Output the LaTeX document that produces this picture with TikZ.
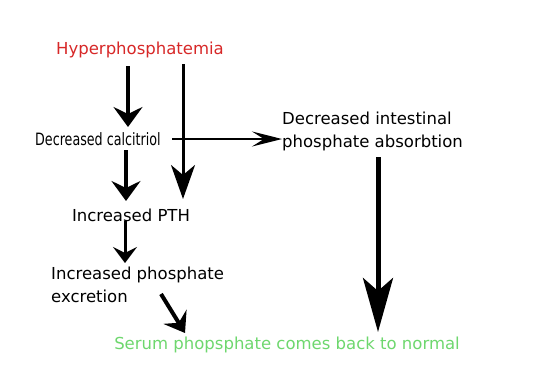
\documentclass[tikz,border=0pt]{standalone}
\usepackage{graphicx}
\usepackage{fontspec}
\setmainfont{DejaVu Sans}
\newfontfamily\condfont{DejaVu Sans Condensed}
\usetikzlibrary{arrows.meta}
\definecolor{hred}{RGB}{215,40,40}
\definecolor{sgreen}{RGB}{110,215,110}
\begin{document}
\begin{tikzpicture}[x=1pt,y=-1pt,
  lbl/.style={font=\fontsize{16.5}{23}\selectfont,inner sep=0pt,align=left},
  arr/.style={line width=4pt,-{Stealth[length=20pt,width=29pt,inset=7pt]}},
  longarr/.style={line width=3pt,-{Stealth[length=34pt,width=24pt,inset=10pt]}},
  smallarr/.style={line width=3pt,-{Stealth[length=16pt,width=24pt,inset=6pt]}},
  diagarr/.style={line width=4pt,-{Stealth[length=19pt,width=27pt,inset=7pt]}},
  bigarr/.style={line width=5pt,-{Stealth[length=54pt,width=30pt,inset=13pt]}},
  thinarr/.style={line width=2pt,-{Stealth[length=30pt,width=15pt,inset=12pt]}}]
\useasboundingbox (0,0) rectangle (536,383);
\node[lbl,text=hred,anchor=center] (hyper) at (140,50) {Hyperphosphatemia};
\node[lbl,anchor=west,font=\condfont\fontsize{17}{18}\selectfont] (calc) at (35,139) {\scalebox{0.83}[1]{Decreased calcitriol}};
\node[lbl,anchor=west] (intest) at (282,131) {Decreased intestinal\\phosphate absorbtion};
\node[lbl,anchor=center] (pth) at (131,215) {Increased PTH};
\node[lbl,anchor=west] (excr) at (51,285) {Increased phosphate\\excretion};
\node[lbl,text=sgreen,anchor=center] (serum) at (287,345) {Serum phopsphate comes back to normal};
\coordinate (a1s) at (128,66);
\coordinate (a1e) at (128,127);
\draw[arr] (a1s) -- (a1e);
\coordinate (a2s) at (183,64);
\coordinate (a2e) at (183,199);
\draw[longarr] (a2s) -- (a2e);
\coordinate (hs) at (172,139);
\draw[thinarr] (hs) -- (intest.west |- hs);
\coordinate (a3s) at (126,150);
\coordinate (a3e) at (126,201);
\draw[arr] (a3s) -- (a3e);
\coordinate (a4s) at (125,221);
\coordinate (a4e) at (125,263);
\draw[smallarr] (a4s) -- (a4e);
\coordinate (ds) at (161,294);
\coordinate (de) at (185,333);
\draw[diagarr] (ds) -- (de);
\coordinate (bs) at (378,157);
\coordinate (be) at (378,332);
\draw[bigarr] (bs) -- (be);
\end{tikzpicture}
\end{document}
